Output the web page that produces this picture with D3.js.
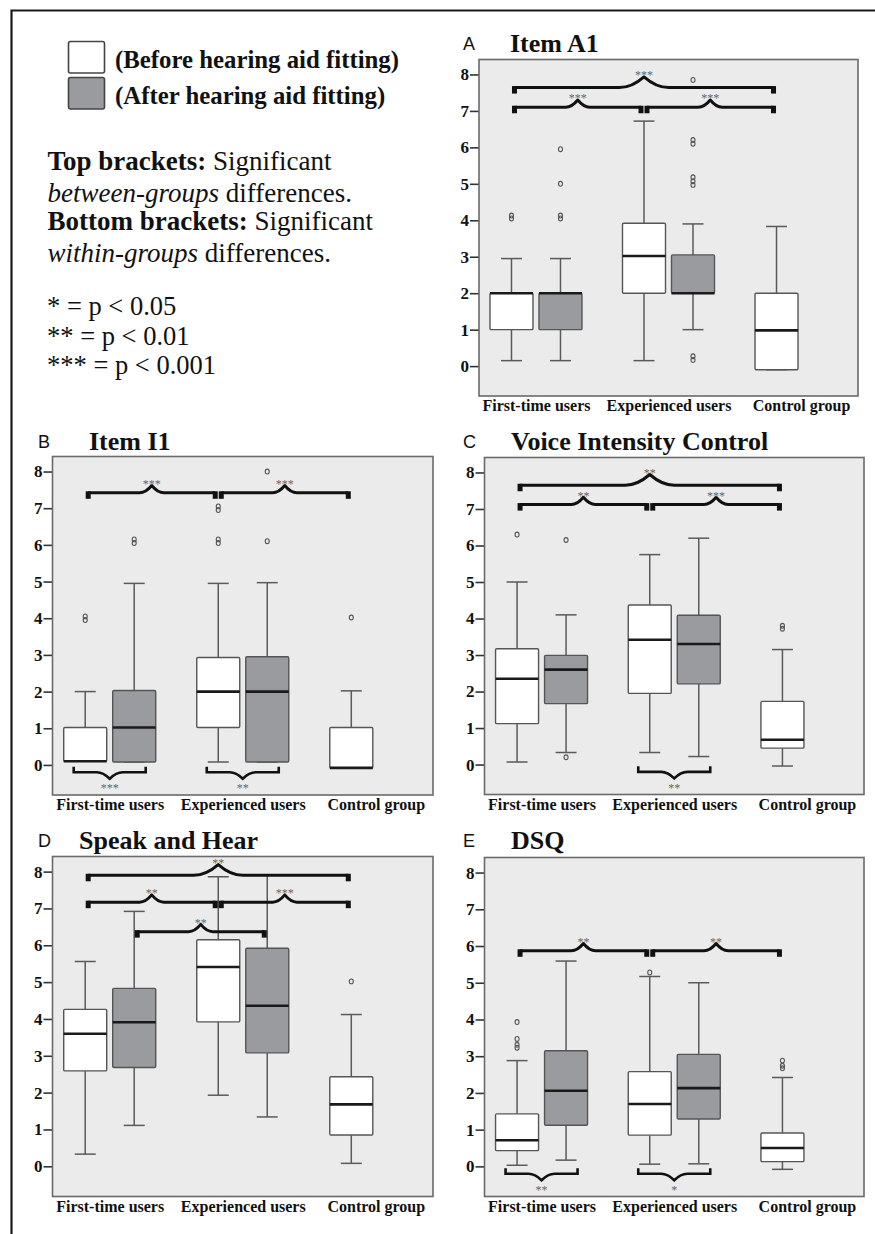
<!DOCTYPE html>
<html>
<head>
<meta charset="utf-8">
<script src="https://cdn.jsdelivr.net/npm/d3@7"></script>
<style>
  body { margin: 0; background: #fff; }
  svg { display: block; }
</style>
</head>
<body>
<svg id="fig" width="875" height="1234"></svg>
<script>
// ---- data -------------------------------------------------------------
const groups = ["First-time users", "Experienced users", "Control group"];
const phaseNames = ["(Before hearing aid fitting)", "(After hearing aid fitting)"];
const yTicks = [0, 1, 2, 3, 4, 5, 6, 7, 8];

// box statistics: g = group index, p = 0 before / 1 after fitting
const itemA1Boxes = [
  { g: 0, p: 0, lo: 0.15, q1: 1.0, med: 2.0, q3: 2.0, hi: 2.95, out: [4.05, 4.13] },
  { g: 0, p: 1, lo: 0.15, q1: 1.0, med: 2.0, q3: 2.0, hi: 2.95, out: [4.05, 4.13, 5.0, 5.95] },
  { g: 1, p: 0, lo: 0.15, q1: 2.0, med: 3.02, q3: 3.92, hi: 6.72, out: [] },
  { g: 1, p: 1, lo: 1.0, q1: 2.0, med: 2.0, q3: 3.05, hi: 3.9, out: [0.17, 0.27, 4.97, 5.07, 5.18, 6.1, 6.2, 7.85] },
  { g: 2, p: 0, lo: -0.1, q1: -0.1, med: 0.98, q3: 2.0, hi: 3.83, out: [] }
];
const itemI1Boxes = [
  { g: 0, p: 0, lo: 0.1, q1: 0.1, med: 0.1, q3: 1.02, hi: 2.0, out: [3.95, 4.05] },
  { g: 0, p: 1, lo: 0.08, q1: 0.08, med: 1.02, q3: 2.03, hi: 4.95, out: [6.05, 6.15] },
  { g: 1, p: 0, lo: 0.08, q1: 1.02, med: 2.0, q3: 2.93, hi: 4.95, out: [6.05, 6.15, 6.95, 7.05] },
  { g: 1, p: 1, lo: 0.08, q1: 0.08, med: 2.0, q3: 2.95, hi: 4.97, out: [6.1, 8.0] },
  { g: 2, p: 0, lo: -0.08, q1: -0.08, med: -0.08, q3: 1.02, hi: 2.02, out: [4.02] }
];
const voiceBoxes = [
  { g: 0, p: 0, lo: 0.07, q1: 1.12, med: 2.35, q3: 3.17, hi: 5.0, out: [6.3] },
  { g: 0, p: 1, lo: 0.33, q1: 1.67, med: 2.6, q3: 2.99, hi: 4.1, out: [0.2, 6.15] },
  { g: 1, p: 0, lo: 0.33, q1: 1.95, med: 3.42, q3: 4.37, hi: 5.75, out: [] },
  { g: 1, p: 1, lo: 0.22, q1: 2.21, med: 3.3, q3: 4.09, hi: 6.2, out: [] },
  { g: 2, p: 0, lo: -0.04, q1: 0.45, med: 0.68, q3: 1.73, hi: 3.15, out: [3.72, 3.8] }
];
const speakBoxes = [
  { g: 0, p: 0, lo: 0.33, q1: 2.59, med: 3.6, q3: 4.26, hi: 5.56, out: [] },
  { g: 0, p: 1, lo: 1.11, q1: 2.68, med: 3.91, q3: 4.83, hi: 6.92, out: [] },
  { g: 1, p: 0, lo: 1.93, q1: 3.92, med: 5.41, q3: 6.15, hi: 7.86, out: [] },
  { g: 1, p: 1, lo: 1.34, q1: 3.08, med: 4.36, q3: 5.92, hi: 7.9, out: [] },
  { g: 2, p: 0, lo: 0.08, q1: 0.85, med: 1.68, q3: 2.43, hi: 4.12, out: [5.02] }
];
const dsqBoxes = [
  { g: 0, p: 0, lo: 0.03, q1: 0.43, med: 0.71, q3: 1.43, hi: 2.88, out: [3.23, 3.31, 3.47, 3.93] },
  { g: 0, p: 1, lo: 0.17, q1: 1.12, med: 2.06, q3: 3.15, hi: 5.59, out: [] },
  { g: 1, p: 0, lo: 0.06, q1: 0.85, med: 1.7, q3: 2.58, hi: 5.17, out: [5.28] },
  { g: 1, p: 1, lo: 0.07, q1: 1.29, med: 2.13, q3: 3.05, hi: 5.0, out: [] },
  { g: 2, p: 0, lo: -0.08, q1: 0.13, med: 0.5, q3: 0.91, hi: 2.42, out: [2.67, 2.74, 2.88] }
];

// between-groups brackets: endpoints are [group, phase], level in score units
const itemA1Between = [
  { from: [0, 0], to: [2, 0], level: 7.64, label: "***" },
  { from: [0, 0], to: [1, 0], level: 7.1, label: "***" },
  { from: [1, 0], to: [2, 0], level: 7.1, label: "***" }
];
const itemI1Between = [
  { from: [0, 0], to: [1, 0], level: 7.42, label: "***" },
  { from: [1, 0], to: [2, 0], level: 7.42, label: "***" }
];
const voiceBetween = [
  { from: [0, 0], to: [2, 0], level: 7.65, label: "**" },
  { from: [0, 0], to: [1, 0], level: 7.12, label: "**" },
  { from: [1, 0], to: [2, 0], level: 7.12, label: "***" }
];
const speakBetween = [
  { from: [0, 0], to: [2, 0], level: 7.9, label: "**" },
  { from: [0, 0], to: [1, 0], level: 7.17, label: "**" },
  { from: [1, 0], to: [2, 0], level: 7.17, label: "***" },
  { from: [0, 1], to: [1, 1], level: 6.37, label: "**" }
];
const dsqBetween = [
  { from: [0, 0], to: [1, 0], level: 5.87, label: "**" },
  { from: [1, 0], to: [2, 0], level: 5.87, label: "**" }
];

// within-groups brackets (before vs after of one group)
const itemA1Within = [];
const itemI1Within = [{ g: 0, label: "***" }, { g: 1, label: "**" }];
const voiceWithin = [{ g: 1, label: "**" }];
const speakWithin = [];
const dsqWithin = [{ g: 0, label: "**" }, { g: 1, label: "*" }];

const panels = [
  { letter: "A", title: "Item A1", boxes: itemA1Boxes, between: itemA1Between, within: itemA1Within },
  { letter: "B", title: "Item I1", boxes: itemI1Boxes, between: itemI1Between, within: itemI1Within },
  { letter: "C", title: "Voice Intensity Control", boxes: voiceBoxes, between: voiceBetween, within: voiceWithin },
  { letter: "D", title: "Speak and Hear", boxes: speakBoxes, between: speakBetween, within: speakWithin },
  { letter: "E", title: "DSQ", boxes: dsqBoxes, between: dsqBetween, within: dsqWithin }
];

// ---- layout & style ---------------------------------------------------
const SERIF = "'Liberation Serif', 'Times New Roman', Times, serif";
const SANS = "'Liberation Sans', Arial, sans-serif";
const fills = ["#ffffff", "#9a9b9e"];
const BG = "#ebebeb";
const WITHIN_LEVEL = -0.2;
const yDomain = [-0.82, 8.41];

const frames = [
  { x0: 479,   y0: 59.5,  x1: 858, y1: 396,   lx: 463, tx: 510, ty: 52 },
  { x0: 52.5,  y0: 456.5, x1: 433, y1: 795,   lx: 38,  tx: 89,  ty: 450 },
  { x0: 484.5, y0: 457.5, x1: 864, y1: 794.5, lx: 463, tx: 511, ty: 450 },
  { x0: 52.5,  y0: 856.5, x1: 433, y1: 1196.5, lx: 38, tx: 79,  ty: 849 },
  { x0: 484.5, y0: 857.5, x1: 864, y1: 1196.5, lx: 463, tx: 511, ty: 849 }
];

const svg = d3.select("#fig");

// page frame (left and top rules)
svg.append("path")
  .attr("d", "M11.5,1234V10.5H875")
  .attr("fill", "none").attr("stroke", "#1a1a1a").attr("stroke-width", 2.2);

// ---- legend & notes ---------------------------------------------------
const legend = svg.append("g");
phaseNames.forEach((name, i) => {
  legend.append("rect")
    .attr("x", 68.5).attr("y", 41.5 + i * 36).attr("width", 36).attr("height", 31.5)
    .attr("rx", 2).attr("fill", fills[i]).attr("stroke", "#444").attr("stroke-width", 1.6);
  legend.append("text")
    .attr("x", 115).attr("y", 68 + i * 35.5)
    .attr("font-family", SERIF).attr("font-weight", "bold").attr("font-size", 24.8)
    .attr("fill", "#111").text(name);
});

const notes = [
  { y: 170, parts: [{ t: "Top brackets:", w: "bold" }, { t: " Significant" }] },
  { y: 201.5, parts: [{ t: "between-groups", s: "italic" }, { t: " differences." }] },
  { y: 230, parts: [{ t: "Bottom brackets:", w: "bold" }, { t: " Significant" }] },
  { y: 261.5, parts: [{ t: "within-groups", s: "italic" }, { t: " differences." }] }
];
notes.forEach(n => {
  const t = legend.append("text")
    .attr("x", 47.5).attr("y", n.y)
    .attr("font-family", SERIF).attr("font-size", 27).attr("fill", "#111");
  n.parts.forEach(p => {
    t.append("tspan")
      .attr("font-weight", p.w || "normal")
      .attr("font-style", p.s || "normal")
      .text(p.t);
  });
});
["* = p < 0.05", "** = p < 0.01", "*** = p < 0.001"].forEach((s, i) => {
  legend.append("text")
    .attr("x", 47).attr("y", 315 + i * 29.5)
    .attr("font-family", SERIF).attr("font-size", 26.5).attr("fill", "#111")
    .text(s);
});

// ---- brackets ---------------------------------------------------------
function topBracket(g, xa, xb, yy, label) {
  const mid = (xa + xb) / 2, len = xb - xa;
  const hw = 0.095 * len, h = 4 + 0.026 * len;
  const a = mid - hw, b = mid + hw;
  g.append("path")
    .attr("d", `M${xa},${yy}H${a}C${a + 0.5 * hw},${yy} ${mid - 0.15 * hw},${yy - 0.7 * h} ${mid},${yy - h}` +
               `C${mid + 0.15 * hw},${yy - 0.7 * h} ${b - 0.5 * hw},${yy} ${b},${yy}H${xb}`)
    .attr("fill", "none").attr("stroke", "#111").attr("stroke-width", 3)
    .attr("stroke-linejoin", "round");
  [xa, xb].forEach(x0 => {
    g.append("rect")
      .attr("x", x0 - 2.5).attr("y", yy - 1.5).attr("width", 5).attr("height", 7.5)
      .attr("fill", "#111");
  });
  g.append("text")
    .attr("x", mid).attr("y", yy - h + 2.5).attr("text-anchor", "middle")
    .attr("font-family", SERIF).attr("font-size", 12).attr("fill", "#666")
    .text(label);
}

function bottomBracket(g, xa, xb, yy, label) {
  const mid = (xa + xb) / 2, hw = 13, h = 6.5;
  const a = mid - hw, b = mid + hw;
  g.append("path")
    .attr("d", `M${xa},${yy - 5.5}V${yy}H${a}C${a + 0.5 * hw},${yy} ${mid - 0.15 * hw},${yy + 0.7 * h} ${mid},${yy + h}` +
               `C${mid + 0.15 * hw},${yy + 0.7 * h} ${b - 0.5 * hw},${yy} ${b},${yy}H${xb}V${yy - 5.5}`)
    .attr("fill", "none").attr("stroke", "#111").attr("stroke-width", 2.6)
    .attr("stroke-linejoin", "miter");
  g.append("text")
    .attr("x", mid).attr("y", yy + h + 13.5).attr("text-anchor", "middle")
    .attr("font-family", SERIF).attr("font-size", 12).attr("fill", "#666")
    .text(label);
}

// ---- panels -----------------------------------------------------------
function drawPanel(panel, L) {
  const g = svg.append("g");
  const y = d3.scaleLinear().domain(yDomain).range([L.y1, L.y0]);
  const x = d3.scalePoint().domain(groups).range([L.x0, L.x1]).padding(0.43).align(0.5);
  const boxW = 43, off = 24.5, capW = 21;
  const cx = (gi, p) => x(groups[gi]) + (p ? off : -off);

  // headings
  g.append("text").attr("x", L.lx).attr("y", L.ty - 2)
    .attr("font-family", SANS).attr("font-size", 18).attr("fill", "#111")
    .text(panel.letter);
  g.append("text").attr("x", L.tx).attr("y", L.ty)
    .attr("font-family", SERIF).attr("font-weight", "bold").attr("font-size", 26).attr("fill", "#111")
    .text(panel.title);

  // plotting area
  g.append("rect")
    .attr("x", L.x0).attr("y", L.y0).attr("width", L.x1 - L.x0).attr("height", L.y1 - L.y0)
    .attr("fill", BG);

  // axes
  g.append("g")
    .attr("transform", `translate(${L.x0},0)`)
    .call(d3.axisLeft(y).tickValues(yTicks).tickSize(9).tickPadding(1).tickFormat(d3.format("d")))
    .attr("font-family", SERIF).attr("font-size", 17).attr("font-weight", "bold")
    .call(a => a.select(".domain").remove())
    .call(a => a.selectAll("line").attr("stroke", "#333").attr("stroke-width", 1.6))
    .call(a => a.selectAll("text").attr("fill", "#111"));

  g.append("g")
    .attr("transform", `translate(0,${L.y1})`)
    .call(d3.axisBottom(x).tickSize(0).tickPadding(4))
    .attr("font-family", SERIF).attr("font-size", 16).attr("font-weight", "bold")
    .call(a => a.select(".domain").remove())
    .call(a => a.selectAll("text").attr("fill", "#111"));

  // whiskers
  const wk = g.append("g").attr("stroke", "#5a5a5a").attr("stroke-width", 1.5);
  panel.boxes.forEach(d => {
    const c = cx(d.g, d.p);
    wk.append("line").attr("x1", c).attr("x2", c).attr("y1", y(d.lo)).attr("y2", y(d.q1));
    wk.append("line").attr("x1", c).attr("x2", c).attr("y1", y(d.q3)).attr("y2", y(d.hi));
    [d.lo, d.hi].forEach(v => {
      wk.append("line").attr("x1", c - capW / 2).attr("x2", c + capW / 2).attr("y1", y(v)).attr("y2", y(v));
    });
  });

  // boxes and medians
  panel.boxes.forEach(d => {
    const c = cx(d.g, d.p);
    g.append("rect")
      .attr("x", c - boxW / 2).attr("y", y(d.q3))
      .attr("width", boxW).attr("height", Math.max(0.5, y(d.q1) - y(d.q3)))
      .attr("rx", 1.2)
      .attr("fill", fills[d.p]).attr("stroke", "#555").attr("stroke-width", 1.4);
    g.append("line")
      .attr("x1", c - boxW / 2).attr("x2", c + boxW / 2)
      .attr("y1", y(d.med)).attr("y2", y(d.med))
      .attr("stroke", "#1a1a1a").attr("stroke-width", 2.6);
  });

  // outliers
  panel.boxes.forEach(d => {
    const c = cx(d.g, d.p);
    d.out.forEach(v => {
      g.append("ellipse")
        .attr("cx", c).attr("cy", y(v)).attr("rx", 2).attr("ry", 2.4)
        .attr("fill", "none").attr("stroke", "#555").attr("stroke-width", 1.1);
    });
  });

  // significance brackets
  panel.between.forEach(b => {
    const xa = cx(b.from[0], b.from[1]) + 3;
    const xb = cx(b.to[0], b.to[1]) - 3;
    topBracket(g, xa, xb, y(b.level), b.label);
  });
  panel.within.forEach(w => {
    const c = x(groups[w.g]);
    bottomBracket(g, c - 36, c + 36, y(WITHIN_LEVEL), w.label);
  });

  // frame of the plotting area
  g.append("rect")
    .attr("x", L.x0).attr("y", L.y0).attr("width", L.x1 - L.x0).attr("height", L.y1 - L.y0)
    .attr("fill", "none").attr("stroke", "#6a6a6a").attr("stroke-width", 1.6);
}

panels.forEach((p, i) => drawPanel(p, frames[i]));
</script>
</body>
</html>
